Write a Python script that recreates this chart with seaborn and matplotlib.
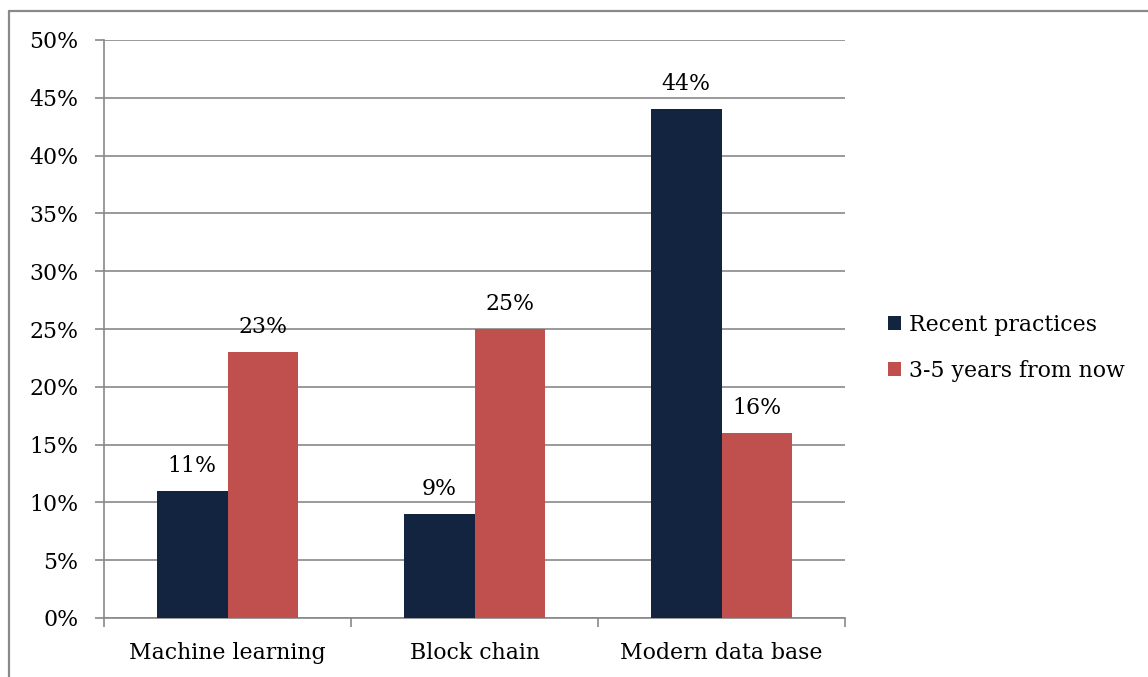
import matplotlib
matplotlib.use("Agg")
import matplotlib.pyplot as plt
import seaborn as sns
import pandas as pd
from matplotlib.lines import Line2D
from matplotlib.patches import Patch

categories = ["Machine learning", "Block chain", "Modern data base"]
recent_practices = [11, 9, 44]
future_3_5_years = [23, 25, 16]
series_names = ["Recent practices", "3-5 years from now"]
y_ticks = [0, 5, 10, 15, 20, 25, 30, 35, 40, 45, 50]

colors = ["#12243F", "#C0504D"]
grid_gray = "#898989"
fs = 15.8

df = pd.DataFrame({
    "category": categories * 2,
    "series": [series_names[0]] * 3 + [series_names[1]] * 3,
    "value": recent_practices + future_3_5_years,
})

sns.set_style("white")
plt.rcParams["font.family"] = ["DejaVu Serif"]
plt.rcParams["font.size"] = fs
plt.rcParams["text.color"] = "black"
plt.rcParams["xtick.labelcolor"] = "black"
plt.rcParams["ytick.labelcolor"] = "black"

W, H = 1148, 677
fig = plt.figure(figsize=(W / 100, H / 100), dpi=100)
fig.patch.set_facecolor("white")

# outer chart frame (left and top edges visible)
fig.add_artist(Line2D([9 / W, 9 / W], [0, 1 - 11 / H], transform=fig.transFigure,
                      color=grid_gray, lw=1.6))
fig.add_artist(Line2D([9 / W, 1], [1 - 11 / H, 1 - 11 / H], transform=fig.transFigure,
                      color=grid_gray, lw=1.6))

left, right, top, bottom = 104, 845, 40, 618
ax = fig.add_axes([left / W, 1 - bottom / H, (right - left) / W, (bottom - top) / H])

sns.barplot(data=df, x="category", y="value", hue="series", palette=colors,
            saturation=1, width=0.57, ax=ax, legend=False, zorder=3,
            linewidth=0, edgecolor="none")

ax.set_ylim(0, 50)
ax.set_xlim(-0.5, 2.5)
ax.set_yticks(y_ticks)
ax.set_yticklabels([f"{t}%" for t in y_ticks])
ax.yaxis.grid(True, color=grid_gray, lw=1.2, zorder=0)
ax.set_axisbelow(True)
ax.set_xlabel("")
ax.set_ylabel("")

for s in ["top", "right"]:
    ax.spines[s].set_visible(False)
for s in ["left", "bottom"]:
    ax.spines[s].set_color(grid_gray)
    ax.spines[s].set_linewidth(1.2)

ax.tick_params(axis="y", length=6.5, width=1.2, color=grid_gray, pad=12,
               labelsize=fs, direction="out", left=True)
ax.set_xticks([0, 1, 2])
ax.set_xticklabels(categories)
ax.set_xticks([-0.5, 0.5, 1.5, 2.5], minor=True)
ax.tick_params(axis="x", which="major", length=0, pad=17, labelsize=fs)
ax.tick_params(axis="x", which="minor", length=6.5, width=1.2, color=grid_gray,
               direction="out", bottom=True)

for cont in ax.containers:
    ax.bar_label(cont, labels=[f"{v:.0f}%" for v in cont.datavalues],
                 padding=10, fontsize=fs, color="black")

handles = [Patch(facecolor=c, edgecolor="none", label=n) for c, n in zip(colors, series_names)]
fig.legend(handles=handles, loc="center left", bbox_to_anchor=(879 / W, 1 - 348 / H),
           frameon=False, fontsize=fs, handlelength=0.6, handleheight=0.6,
           handletextpad=0.35, labelspacing=1.1, borderaxespad=0)

fig.savefig("out.png", dpi=100, facecolor="white")
